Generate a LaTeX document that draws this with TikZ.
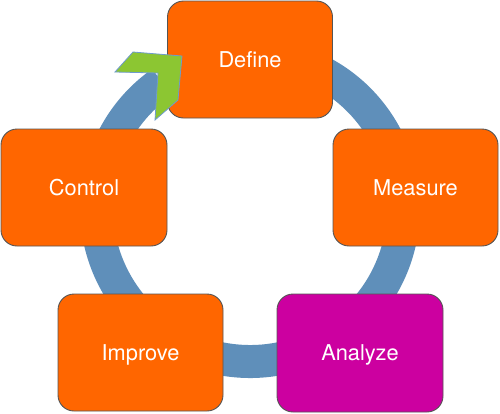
\documentclass[tikz,border=0pt]{standalone}
\usepackage{fontspec}
\setmainfont{TeX Gyre Heros}
\definecolor{boxorange}{RGB}{255,102,0}
\definecolor{boxmagenta}{RGB}{204,0,160}
\definecolor{ringblue}{RGB}{95,143,186}
\definecolor{arrowgreen}{RGB}{140,198,50}
\definecolor{arrowedge}{RGB}{110,155,205}
\definecolor{boxedge}{RGB}{85,85,85}
\tikzset{
  stage/.style={draw=boxedge, line width=0.9pt, rounded corners=16pt,
    minimum width=165pt, minimum height=117pt, inner sep=0pt,
    text height=15.4pt, text depth=-1.5pt,
    text=white, font=\fontsize{21.8}{26}\selectfont},
  ring/.style={draw=ringblue, line width=33pt},
  headstyle/.style={fill=arrowgreen, draw=arrowedge, line width=0.8pt, line join=miter}
}
\begin{document}
\begin{tikzpicture}[x=1pt,y=1pt]
\useasboundingbox (0,0) rectangle (500,-413);
\coordinate (center) at (250,-208);
% ring
\draw[ring] ([shift={(125:153.5)}]center) arc[start angle=125, end angle=450, radius=153.5];
% boxes
\node[stage, fill=boxorange] (define) at (250,-59.5) {Define};
\node[stage, fill=boxorange] (measure) at (415.5,-187.5) {Measure};
\node[stage, fill=boxmagenta, minimum width=166pt, minimum height=118pt] (analyze) at (360,-353) {Analyze};
\node[stage, fill=boxorange] (improve) at (140.5,-352.5) {Improve};
\node[stage, fill=boxorange, minimum width=166pt] (control) at (84,-187.5) {Control};
% arrow head
\draw[headstyle] (115,-72) -- (158,-73) -- (155,-120) -- (178,-100) -- (182,-56) -- (133,-52) -- cycle;
\end{tikzpicture}
\end{document}
